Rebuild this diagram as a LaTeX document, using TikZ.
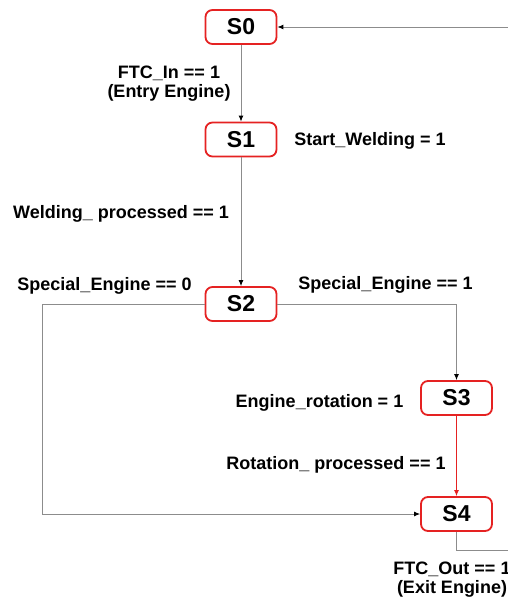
\documentclass[tikz,border=0pt]{standalone}
\usepackage{fontspec}
\setmainfont{Liberation Sans}
\usetikzlibrary{arrows.meta}
\definecolor{sred}{HTML}{E52222}
\definecolor{lgray}{HTML}{8C8C8C}
\begin{document}
\begin{tikzpicture}[x=1pt,y=-1pt,
 state/.style={draw=sred, fill=white, line width=1.8pt, rounded corners=7pt, minimum width=71pt, minimum height=34pt, inner sep=0pt, font=\fontsize{23}{25}\selectfont\bfseries},
 lbl/.style={font=\fontsize{18}{19}\selectfont\bfseries, align=center, inner sep=0pt, anchor=base},
 conn/.style={draw=lgray, line width=0.9pt, -{Latex[length=6pt,width=5pt,color=black]}},
 redconn/.style={draw=sred, line width=0.9pt, -{Latex[length=6pt,width=5pt,color=sred]}}]
\useasboundingbox (0,0) rectangle (508,599);
\clip (0,0) rectangle (508,599);
\node[state] (S0) at (241,27) {S0};
\node[state] (S1) at (241,139.5) {S1};
\node[state] (S2) at (241,304) {S2};
\node[state] (S3) at (456.5,398) {S3};
\node[state] (S4) at (456.5,514) {S4};
\coordinate (lc) at (42,304);
\coordinate (rb) at (530,550);
\draw[conn] (S0) -- (S1);
\draw[conn] (S1) -- (S2);
\draw[conn] (S2.east) -| (S3.north);
\draw[conn] (S2.west) -- (lc) |- (S4.west);
\draw[redconn] (S3) -- (S4);
\draw[conn] (S4.south) |- (rb) |- (S0.east);
\node[lbl] (l1) at (169,97.5) {FTC\_In == 1\\(Entry Engine)};
\node[lbl] (l2) at (370,145.5) {Start\_Welding = 1};
\node[lbl] (l3) at (121,218.5) {Welding\_ processed == 1};
\node[lbl] (l4) at (104.5,290.5) {Special\_Engine == 0};
\node[lbl] (l5) at (385.5,289.5) {Special\_Engine == 1};
\node[lbl] (l6) at (319.5,407.5) {Engine\_rotation = 1};
\node[lbl] (l7) at (336,469.5) {Rotation\_ processed == 1};
\node[lbl] (l8) at (452,593.5) {FTC\_Out == 1\\(Exit Engine)};
\end{tikzpicture}
\end{document}
